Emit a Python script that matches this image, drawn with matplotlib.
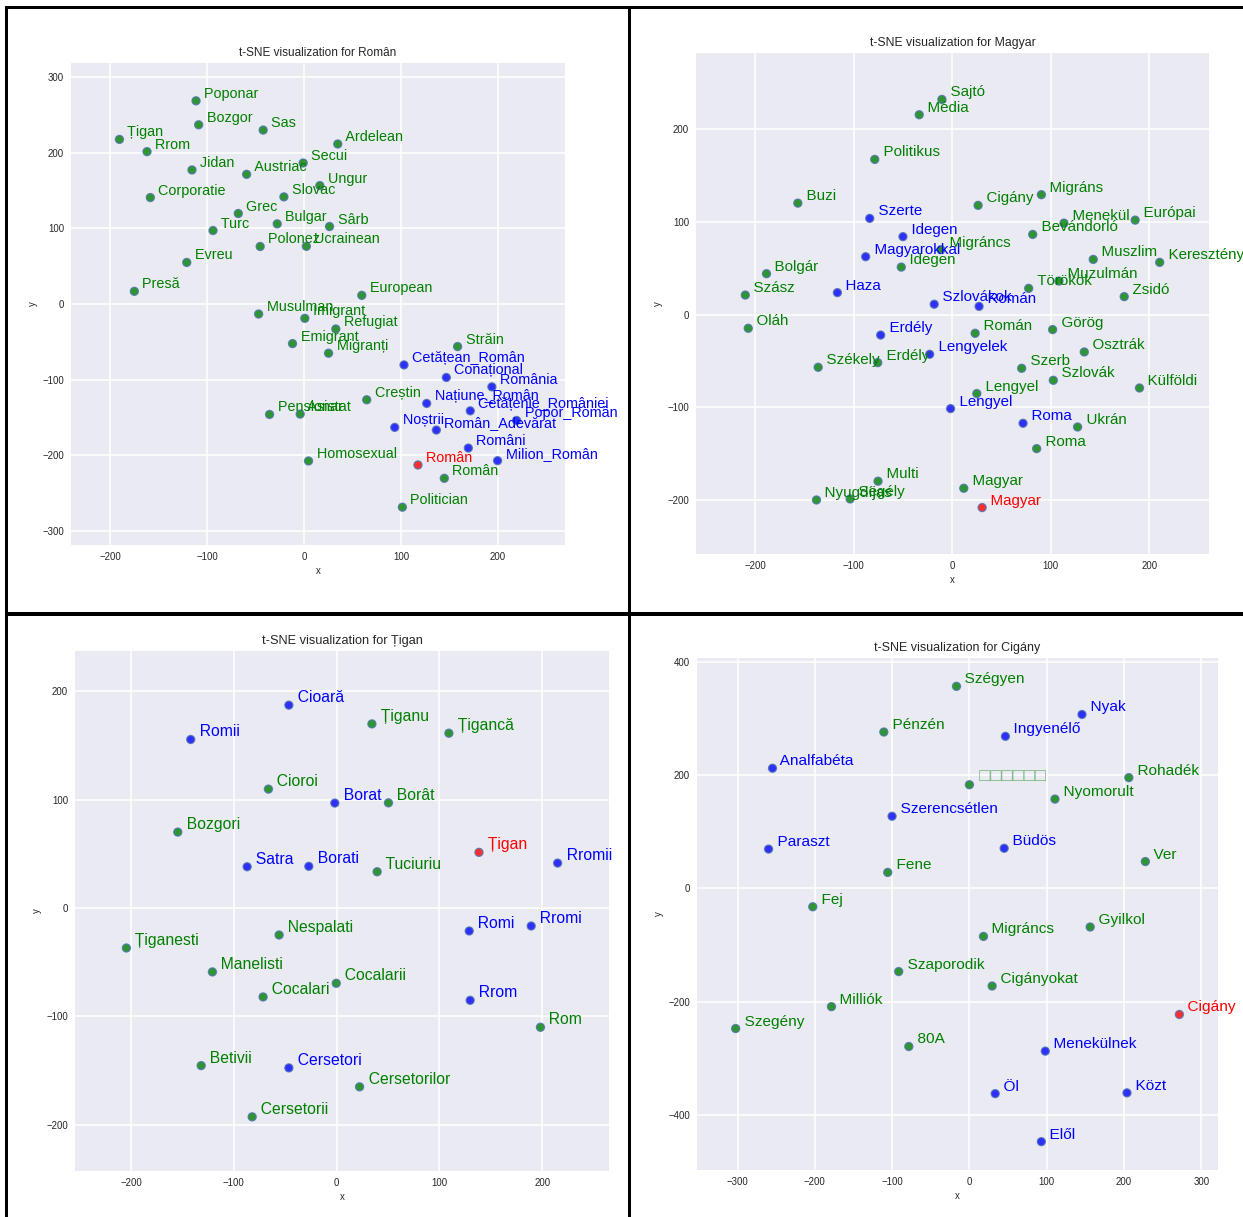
import matplotlib.pyplot as plt
from matplotlib.patches import Rectangle

plt.rcParams['font.family'] = ['Liberation Sans', 'DejaVu Sans']
plt.rcParams['axes.unicode_minus'] = True

W, H = 1243, 1217

# --- Român ---
ro_words = ['Român', 'Cetățean_Român', 'Conațional', 'România', 'Națiune_Român',
            'Cetățenie_României', 'Popor_Român', 'Noștrii', 'Român_Adevărat', 'Români',
            'Milion_Român', 'Poponar', 'Bozgor', 'Sas', 'Țigan', 'Rrom', 'Jidan', 'Austriac',
            'Secui', 'Slovac', 'Ungur', 'Ardelean', 'Corporatie', 'Grec', 'Bulgar', 'Sârb',
            'Turc', 'Polonez', 'Ucrainean', 'Evreu', 'Presă', 'European', 'Musulman',
            'Imigrant', 'Emigrant', 'Refugiat', 'Migranți', 'Străin', 'Creștin', 'Pensionar',
            'Asistat', 'Homosexual', 'Român', 'Politician']
ro_x = [117.5, 103.1, 146.8, 193.8, 126.5, 171.5, 219.3, 93.5, 136.5, 169.5,
        199.7, -111.6, -108.9, -42.3, -190.7, -162.2, -115.8, -59.4, -1.0, -20.9,
        16.2, 34.7, -158.8, -68.0, -27.8, 26.2, -94.1, -45.4, 2.3, -121.2,
        -175.3, 59.5, -47.0, 0.7, -12.0, 32.7, 25.2, 158.4, 64.6, -35.7,
        -4.1, 4.5, 144.7, 101.4]
ro_y = [-212.8, -80.5, -97.1, -109.5, -131.4, -141.2, -153.9, -163.1, -166.6, -190.4,
        -207.1, 268.7, 237.0, 230.0, 217.7, 201.5, 177.3, 171.5, 186.5, 141.7,
        156.6, 211.6, 140.8, 119.7, 106.0, 102.5, 97.2, 76.1, 76.3, 55.0,
        16.8, 11.5, -13.2, -18.9, -52.3, -33.0, -65.0, -56.2, -126.6, -146.0,
        -145.5, -207.5, -230.4, -268.6]
ro_kind = ['r', 'b', 'b', 'b', 'b', 'b', 'b', 'b', 'b', 'b',
           'b', 'g', 'g', 'g', 'g', 'g', 'g', 'g', 'g', 'g',
           'g', 'g', 'g', 'g', 'g', 'g', 'g', 'g', 'g', 'g',
           'g', 'g', 'g', 'g', 'g', 'g', 'g', 'g', 'g', 'g',
           'g', 'g', 'g', 'g']

# --- Magyar ---
hu_words = ['Magyar', 'Szerte', 'Idegen', 'Magyarokkal', 'Haza', 'Szlovákok', 'Román',
            'Erdély', 'Lengyelek', 'Lengyel', 'Roma', 'Sajtó', 'Média', 'Politikus', 'Buzi',
            'Cigány', 'Migráns', 'Menekül', 'Európai', 'Bevándorló', 'Migráncs', 'Idegen',
            'Muszlim', 'Keresztény', 'Bolgár', 'Szász', 'Törökök', 'Muzulmán', 'Zsidó',
            'Oláh', 'Román', 'Görög', 'Osztrák', 'Székely', 'Erdély', 'Szerb', 'Szlovák',
            'Külföldi', 'Lengyel', 'Ukrán', 'Roma', 'Multi', 'Nyugdíjas', 'Segély', 'Magyar']
hu_x = [30.4, -83.6, -49.9, -87.7, -116.4, -18.2, 27.3, -72.5, -22.8, -1.6,
        71.9, -10.4, -33.4, -78.5, -156.5, 26.3, 90.5, 113.4, 185.6, 81.7,
        -11.4, -51.6, 143.1, 210.5, -188.3, -209.8, 77.6, 108.3, 174.5, -206.8,
        23.3, 101.9, 134.0, -135.9, -75.5, 70.5, 102.6, 190.0, 25.0, 127.2,
        85.7, -75.2, -137.6, -103.5, 11.8]
hu_y = [-207.8, 103.7, 84.0, 62.4, 23.7, 11.2, 8.9, -22.0, -42.7, -101.2,
        -117.0, 231.8, 215.3, 167.2, 120.1, 117.7, 129.2, 98.6, 101.8, 86.4,
        70.0, 51.2, 59.5, 56.3, 44.1, 21.1, 28.3, 36.2, 19.4, -14.7,
        -20.1, -16.1, -40.2, -56.7, -51.7, -57.8, -70.7, -79.0, -85.0, -121.0,
        -144.3, -179.4, -199.6, -198.5, -187.0]
hu_kind = ['r', 'b', 'b', 'b', 'b', 'b', 'b', 'b', 'b', 'b',
           'b', 'g', 'g', 'g', 'g', 'g', 'g', 'g', 'g', 'g',
           'g', 'g', 'g', 'g', 'g', 'g', 'g', 'g', 'g', 'g',
           'g', 'g', 'g', 'g', 'g', 'g', 'g', 'g', 'g', 'g',
           'g', 'g', 'g', 'g', 'g']

# --- Țigan ---
tg_words = ['Țigan', 'Cioară', 'Romii', 'Borat', 'Satra', 'Borati', 'Rromii', 'Romi',
            'Rromi', 'Rrom', 'Cersetori', 'Țiganu', 'Țigancă', 'Cioroi', 'Borât', 'Bozgori',
            'Tuciuriu', 'Țiganesti', 'Nespalati', 'Manelisti', 'Cocalarii', 'Cocalari',
            'Rom', 'Betivii', 'Cersetorilor', 'Cersetorii']
tg_x = [138.5, -46.5, -142.0, -1.8, -87.1, -27.1, 215.0, 129.0, 189.3, 129.9,
        -46.5, 34.3, 109.2, -66.4, 50.4, -154.6, 39.4, -204.6, -56.0, -120.9,
        -0.4, -71.6, 198.3, -131.8, 22.3, -82.2]
tg_y = [51.4, 187.3, 155.6, 96.9, 38.1, 38.5, 41.5, -21.2, -16.6, -85.2,
        -147.6, 170.0, 161.4, 109.8, 97.1, 70.1, 33.5, -36.9, -24.9, -59.0,
        -69.5, -82.1, -110.1, -145.5, -165.1, -192.8]
tg_kind = ['r', 'b', 'b', 'b', 'b', 'b', 'b', 'b', 'b', 'b',
           'b', 'g', 'g', 'g', 'g', 'g', 'g', 'g', 'g', 'g',
           'g', 'g', 'g', 'g', 'g', 'g']

# --- Cigány ---
cg_words = ['Cigány', 'Nyak', 'Ingyenélő', 'Analfabéta', 'Szerencsétlen', 'Paraszt',
            'Büdös', 'Menekülnek', 'Öl', 'Közt', 'Elől', 'Szégyen', 'Pénzén', '□□□□□□',
            'Rohadék', 'Nyomorult', 'Ver', 'Fene', 'Fej', 'Gyilkol', 'Migráncs',
            'Szaporodik', 'Cigányokat', 'Milliók', 'Szegény', '80A']
cg_x = [271.7, 145.7, 46.6, -254.8, -100.1, -259.9, 45.0, 98.2, 33.4, 203.9,
        93.1, -16.7, -110.7, 0.0, 206.3, 110.7, 227.7, -105.7, -202.7, 156.3,
        18.2, -91.5, 29.4, -178.5, -302.5, -78.4]
cg_y = [-222.4, 306.9, 268.3, 212.0, 127.3, 69.4, 70.8, -287.1, -362.1, -360.7,
        -446.8, 356.5, 275.9, 182.9, 195.4, 157.6, 47.4, 28.2, -32.4, -68.1,
        -84.7, -146.7, -172.2, -208.6, -247.2, -278.9]
cg_kind = ['r', 'b', 'b', 'b', 'b', 'b', 'b', 'b', 'b', 'b',
           'b', 'g', 'g', 'g', 'g', 'g', 'g', 'g', 'g', 'g',
           'g', 'g', 'g', 'g', 'g', 'g']

COLORS = {'r': 'red', 'b': 'blue', 'g': 'green'}

fig = plt.figure(figsize=(W / 100, H / 100), dpi=100)
fig.patch.set_facecolor('white')


def tsne_panel(box, word, words, xs, ys, kinds, label_fs, title_fs, xticks, yticks):
    l, t, r, b = box
    ax = fig.add_axes([l / W, 1 - b / H, (r - l) / W, (b - t) / H])
    ax.set_facecolor('#eaeaf2')
    for sp in ax.spines.values():
        sp.set_visible(False)
    ax.set_axisbelow(True)
    ax.grid(True, color='white', linewidth=1.1)

    ax.scatter(xs, ys, s=34, c=[COLORS[k] for k in kinds], edgecolors='#4c72b0',
               linewidths=0.9, alpha=0.8, zorder=2)
    for w, x, y, k in zip(words, xs, ys, kinds):
        if w.startswith('□'):
            # missing glyphs in the original render as empty boxes
            ax.text(x, y, '  ' + w, ha='left', va='bottom', color='green', alpha=0.5,
                    fontsize=label_fs * 1.2, zorder=3)
        else:
            ax.text(x, y, '  ' + w, ha='left', va='bottom', color=COLORS[k],
                    fontsize=label_fs, zorder=3)

    ax.set_xlim(min(xs) - 50, max(xs) + 50)
    ax.set_ylim(min(ys) - 50, max(ys) + 50)
    ax.set_xticks(xticks)
    ax.set_yticks(yticks)
    ax.tick_params(length=0, pad=5, labelsize=6.9, labelcolor='.15')
    ax.set_xlabel('x', fontsize=6.9, color='.15', labelpad=3)
    ax.set_ylabel('y', fontsize=6.9, color='.15', labelpad=3)
    ax.set_title('t-SNE visualization for {}'.format(word), fontsize=title_fs,
                 color='.15', pad=5)
    return ax


tsne_panel((71, 63, 565, 545), 'Român', ro_words, ro_x, ro_y, ro_kind, 10.4, 8.5,
           [-200, -100, 0, 100, 200], [-300, -200, -100, 0, 100, 200, 300])
tsne_panel((696, 53, 1209, 554), 'Magyar', hu_words, hu_x, hu_y, hu_kind, 10.9, 8.8,
           [-200, -100, 0, 100, 200], [-200, -100, 0, 100, 200])
tsne_panel((75, 651, 609, 1171), 'Țigan', tg_words, tg_x, tg_y, tg_kind, 11.3, 9.2,
           [-200, -100, 0, 100, 200], [-200, -100, 0, 100, 200])
tsne_panel((697, 658, 1218, 1170), 'Cigány', cg_words, cg_x, cg_y, cg_kind, 11.1, 9.0,
           [-300, -200, -100, 0, 100, 200, 300], [-400, -200, 0, 200, 400])


# black frame lines of the collage
def frame(x0, y0, x1, y1):
    fig.add_artist(Rectangle((x0 / W, 1 - y1 / H), (x1 - x0) / W, (y1 - y0) / H,
                             transform=fig.transFigure, facecolor='black',
                             edgecolor='none', zorder=10))


frame(5, 6, W, 9)
frame(5, 6, 8, H)
frame(628, 6, 631, H)
frame(5, 612, W, 616)

fig.savefig('out.png', dpi=100)
